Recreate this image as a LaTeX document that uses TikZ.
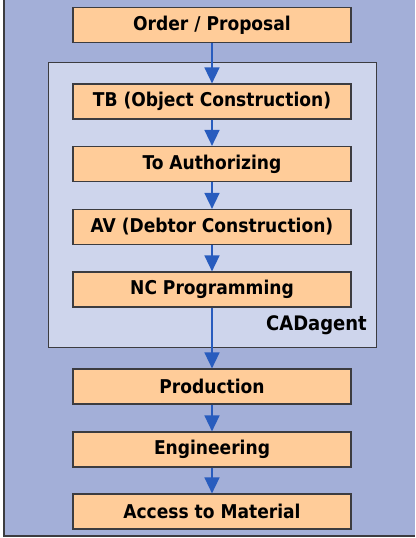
\documentclass[tikz,border=0pt]{standalone}
\usepackage{fontspec}
\setmainfont{DejaVu Sans Condensed}
\usetikzlibrary{arrows.meta}
\definecolor{outerbg}{RGB}{163,175,216}
\definecolor{panelbg}{RGB}{206,213,236}
\definecolor{stepfill}{RGB}{255,204,153}
\definecolor{flowblue}{RGB}{40,92,190}
\definecolor{rim}{RGB}{60,60,64}
\tikzset{
    stage/.style={rectangle,draw=rim,line width=1.2pt,fill=stepfill,minimum width=278pt,minimum height=35pt,inner sep=0pt,font=\bfseries\fontsize{19}{21}\selectfont},
    panel/.style={rectangle,draw=rim,line width=0.9pt,fill=panelbg,minimum width=328pt,minimum height=285pt,inner sep=0pt},
    flow/.style={->,> = {Triangle[length=16pt,width=15pt]}, draw=flowblue, fill=flowblue, line width=1.6pt},
}
\begin{document}
\begin{tikzpicture}[x=1pt,y=-1pt]
    \useasboundingbox (0,0) rectangle (415,538);
    \fill[outerbg] (4,0) rectangle (415,536);
    \draw[rim,line width=2pt] (4,0) -- (4,536) -- (415,536);
    \node[panel] (cad) at (212,204.5) {};
    \node[font=\bfseries\fontsize{20}{22}\selectfont] (cadname) at (316.5,325) {CADagent};
    \node[stage] (order) at (212,25) {Order / Proposal};
    \node[stage] (tb) at (212,101.5) {TB (Object Construction)};
    \node[stage] (auth) at (212,164) {To Authorizing};
    \node[stage] (av) at (212,227) {AV (Debtor Construction)};
    \node[stage] (nc) at (212,289.5) {NC Programming};
    \node[stage] (prod) at (212,386.5) {Production};
    \node[stage] (eng) at (212,449.5) {Engineering};
    \node[stage] (mat) at (212,511.5) {Access to Material};
    \draw[flow] (order) -- (tb);
    \draw[flow] (tb) -- (auth);
    \draw[flow] (auth) -- (av);
    \draw[flow] (av) -- (nc);
    \draw[flow] (nc) -- (prod);
    \draw[flow] (prod) -- (eng);
    \draw[flow] (eng) -- (mat);
\end{tikzpicture}
\end{document}
